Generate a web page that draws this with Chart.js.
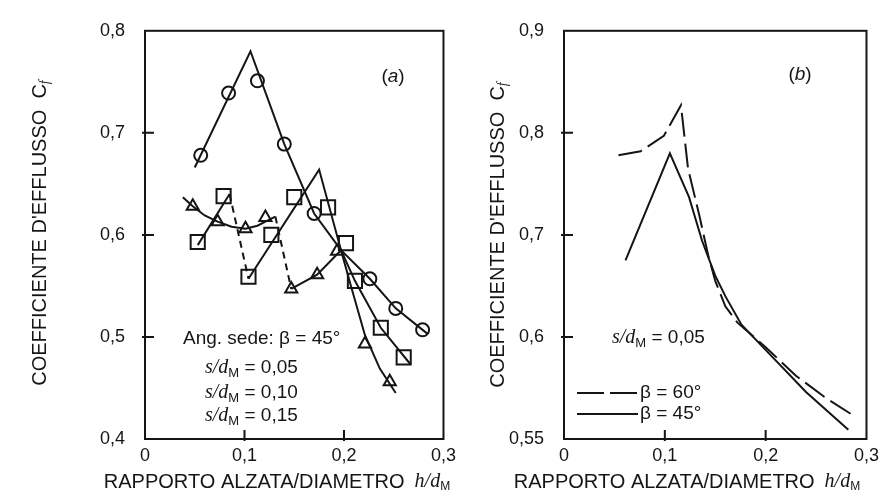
<!DOCTYPE html>
<html>
<head>
<meta charset="utf-8">
<script src="https://cdn.jsdelivr.net/npm/chart.js@4.4.1/dist/chart.umd.min.js"></script>
<style>
  html, body { margin: 0; padding: 0; background: #fff; }
  #wrap { position: relative; width: 885px; height: 496px; }
  canvas { position: absolute; top: 0; }
  #cA { left: 0; }
  #cB { left: 462px; }
</style>
</head>
<body>
<div id="wrap">
  <canvas id="cA" width="462" height="496"></canvas>
  <canvas id="cB" width="423" height="496"></canvas>
</div>
<script>
// ---- panel (a): beta = 45 deg, three values of s/dM ----
// circles (s/dM = 0,05)
var circLineX = [0.050, 0.106, 0.140, 0.170, 0.197, 0.226, 0.252, 0.284];
var circLineY = [0.666, 0.780, 0.689, 0.621, 0.585, 0.557, 0.528, 0.503];
var circPtX = [0.056, 0.084, 0.113, 0.140, 0.170, 0.226, 0.252, 0.279];
var circPtY = [0.678, 0.739, 0.751, 0.689, 0.621, 0.557, 0.528, 0.507];
// squares (s/dM = 0,10)
var sqLineX = [0.053, 0.085, 0.104, 0.175, 0.197, 0.211, 0.237, 0.267];
var sqLineY = [0.590, 0.640, 0.557, 0.664, 0.585, 0.555, 0.509, 0.473];
var sqDashed = [1];          // segment index drawn dashed
var sqPtX = [0.053, 0.079, 0.104, 0.127, 0.150, 0.184, 0.202, 0.211, 0.237, 0.260];
var sqPtY = [0.593, 0.638, 0.559, 0.600, 0.637, 0.627, 0.592, 0.555, 0.509, 0.480];
// triangles (s/dM = 0,15)
var triLineX = [0.038, 0.048, 0.060, 0.073, 0.087, 0.101, 0.113, 0.121, 0.131, 0.147, 0.173, 0.197, 0.207, 0.221, 0.236, 0.252];
var triLineY = [0.637, 0.628, 0.619, 0.613, 0.608, 0.606, 0.609, 0.613, 0.618, 0.547, 0.561, 0.585, 0.550, 0.502, 0.469, 0.445];
var triDashed = [8];
var triPtX = [0.048, 0.073, 0.101, 0.121, 0.147, 0.173, 0.193, 0.221, 0.246];
var triPtY = [0.628, 0.613, 0.606, 0.617, 0.547, 0.561, 0.584, 0.493, 0.456];

// ---- panel (b): s/dM = 0,05 ----
var b60X = [0.054, 0.076, 0.099, 0.116, 0.123, 0.134, 0.143, 0.150, 0.160, 0.172, 0.200, 0.230, 0.260, 0.287];
var b60Y = [0.778, 0.782, 0.797, 0.827, 0.765, 0.720, 0.680, 0.655, 0.630, 0.614, 0.590, 0.562, 0.540, 0.523];
var b45X = [0.061, 0.105, 0.124, 0.137, 0.150, 0.160, 0.176, 0.208, 0.240, 0.282];
var b45Y = [0.675, 0.780, 0.737, 0.694, 0.660, 0.640, 0.612, 0.579, 0.546, 0.509];

// ticks
var xTicks = [0, 0.1, 0.2, 0.3];
var xTickText = ['0', '0,1', '0,2', '0,3'];
var yTicksA = [0.4, 0.5, 0.6, 0.7, 0.8];
var yTickTextA = ['0,4', '0,5', '0,6', '0,7', '0,8'];
var yTicksB = [0.5, 0.6, 0.7, 0.8, 0.9];
var yTickTextB = ['0,55', '0,6', '0,7', '0,8', '0,9'];

var SANS = "'Liberation Sans', Arial, sans-serif";
var SERIF = "'Liberation Serif', 'Times New Roman', serif";
var INK = '#151515';

function pts(xs, ys) {
  return xs.map(function (x, i) { return { x: x, y: ys[i] }; });
}

function lineSet(xs, ys, dash, dashedIdx) {
  return {
    data: pts(xs, ys),
    showLine: true,
    borderColor: INK,
    borderWidth: 2,
    pointRadius: 0,
    borderDash: dash || [],
    segment: dashedIdx ? {
      borderDash: function (c) { return dashedIdx.indexOf(c.p0DataIndex) >= 0 ? [7, 5] : undefined; }
    } : undefined
  };
}

function markSet(xs, ys, style, r) {
  return {
    data: pts(xs, ys),
    showLine: false,
    pointStyle: style,
    pointRadius: r,
    pointBorderWidth: 2,
    pointBorderColor: INK,
    pointBackgroundColor: 'rgba(0,0,0,0)'
  };
}

// draw a run of text pieces with their own fonts (italic, subscript ...)
function runsWidth(ctx, runs) {
  var w = 0;
  runs.forEach(function (r) { ctx.font = r.f; w += ctx.measureText(r.t).width + (r.gap || 0); });
  return w;
}
function drawRuns(ctx, runs, x, y, align) {
  var w = runsWidth(ctx, runs);
  var cx = align === 'center' ? x - w / 2 : x;
  ctx.textBaseline = 'middle';
  ctx.textAlign = 'left';
  ctx.fillStyle = INK;
  runs.forEach(function (r) {
    ctx.font = r.f;
    ctx.fillText(r.t, cx, y + (r.dy || 0));
    cx += ctx.measureText(r.t).width + (r.gap || 0);
  });
}

function sdm(val) {
  return [
    { t: 's/d', f: 'italic 20px ' + SERIF },
    { t: 'M', f: '13px ' + SANS, dy: 5 },
    { t: ' = ' + val, f: '19px ' + SANS }
  ];
}
var yTitle = [
  { t: "COEFFICIENTE D'EFFLUSSO  C", f: '20px ' + SANS },
  { t: 'f', f: 'italic 14px ' + SERIF, dy: 5 }
];
var xTitle = [
  { t: 'RAPPORTO ALZATA/DIAMETRO', f: '20px ' + SANS, gap: 10 },
  { t: 'h/d', f: 'italic 20px ' + SERIF },
  { t: 'M', f: '12px ' + SANS, dy: 5 }
];

// box around the plot area plus short inward tick marks
var frame = {
  id: 'frame',
  afterDatasetsDraw: function (chart) {
    var a = chart.chartArea, ctx = chart.ctx;
    var xs = chart.scales.x, ys = chart.scales.y;
    ctx.save();
    ctx.strokeStyle = INK;
    ctx.lineWidth = 2;
    ctx.strokeRect(a.left, a.top, a.right - a.left, a.bottom - a.top);
    ctx.beginPath();
    xs.ticks.forEach(function (t) {
      var px = xs.getPixelForValue(t.value);
      if (px <= a.left + 2 || px >= a.right - 2) return;
      ctx.moveTo(px, a.bottom + 2);
      ctx.lineTo(px, a.bottom - 9);
    });
    ys.ticks.forEach(function (t) {
      var py = ys.getPixelForValue(t.value);
      if (py <= a.top + 2 || py >= a.bottom - 2) return;
      ctx.moveTo(a.left - 3, py);
      ctx.lineTo(a.left + 9, py);
    });
    ctx.stroke();
    ctx.restore();
  }
};

function notes(list) {
  return {
    id: 'notes',
    afterDraw: function (chart) {
      var ctx = chart.ctx;
      list.forEach(function (n) {
        ctx.save();
        if (n.rot) {
          ctx.translate(n.x, n.y);
          ctx.rotate(-Math.PI / 2);
          drawRuns(ctx, n.runs, 0, 0, 'center');
        } else if (n.line) {
          ctx.strokeStyle = INK;
          ctx.lineWidth = 2;
          ctx.setLineDash(n.line);
          ctx.beginPath();
          ctx.moveTo(n.x, n.y);
          ctx.lineTo(n.x2, n.y);
          ctx.stroke();
        } else {
          drawRuns(ctx, n.runs, n.x, n.y, n.align);
        }
        ctx.restore();
      });
    }
  };
}

function scales(yTicks, yText, yMin, yMax, yWidth) {
  return {
    x: {
      type: 'linear', min: 0, max: 0.3,
      afterBuildTicks: function (s) { s.ticks = xTicks.map(function (v) { return { value: v }; }); },
      afterFit: function (s) { s.height = 57; },
      grid: { display: false, drawTicks: false },
      border: { display: false },
      ticks: {
        padding: 6, color: INK, font: { size: 18, family: SANS },
        callback: function (v, i) { return xTickText[i]; }
      }
    },
    y: {
      type: 'linear', min: yMin, max: yMax,
      afterBuildTicks: function (s) { s.ticks = yTicks.map(function (v) { return { value: v }; }); },
      afterFit: function (s) { s.width = yWidth; },
      grid: { display: false, drawTicks: false },
      border: { display: false },
      ticks: {
        padding: 20, color: INK, font: { size: 18, family: SANS },
        callback: function (v, i) { return yText[i]; }
      }
    }
  };
}

var common = {
  responsive: false,
  animation: false,
  events: [],
  plugins: { legend: { display: false }, tooltip: { enabled: false } }
};

new Chart(document.getElementById('cA'), {
  type: 'scatter',
  data: {
    datasets: [
      lineSet(circLineX, circLineY),
      lineSet(sqLineX, sqLineY, null, sqDashed),
      lineSet(triLineX, triLineY, null, triDashed),
      markSet(circPtX, circPtY, 'circle', 6.5),
      markSet(sqPtX, sqPtY, 'rect', 10),
      markSet(triPtX, triPtY, 'triangle', 7)
    ]
  },
  options: Object.assign({}, common, {
    layout: { padding: { top: 23, right: 4, bottom: 0, left: 0 } },
    scales: scales(yTicksA, yTickTextA, 0.4, 0.8, 145)
  }),
  plugins: [frame, notes([
    { x: 393, y: 77, align: 'center', runs: [
      { t: '(', f: '19px ' + SANS }, { t: 'a', f: 'italic 19px ' + SANS }, { t: ')', f: '19px ' + SANS }] },
    { x: 183, y: 339, runs: [{ t: 'Ang. sede: \u03b2 = 45\u00b0', f: '19px ' + SANS }] },
    { x: 205, y: 368, runs: sdm('0,05') },
    { x: 205, y: 393, runs: sdm('0,10') },
    { x: 205, y: 416, runs: sdm('0,15') },
    { x: 40, y: 233, rot: true, runs: yTitle },
    { x: 277, y: 482, align: 'center', runs: xTitle }
  ])]
});

new Chart(document.getElementById('cB'), {
  type: 'scatter',
  data: {
    datasets: [
      lineSet(b60X, b60Y, [24, 7]),
      lineSet(b45X, b45Y)
    ]
  },
  options: Object.assign({}, common, {
    layout: { padding: { top: 23, right: 10, bottom: 0, left: 0 } },
    scales: scales(yTicksB, yTickTextB, 0.5, 0.9, 102)
  }),
  plugins: [frame, notes([
    { x: 338, y: 75, align: 'center', runs: [
      { t: '(', f: '19px ' + SANS }, { t: 'b', f: 'italic 19px ' + SANS }, { t: ')', f: '19px ' + SANS }] },
    { x: 150, y: 338, runs: sdm('0,05') },
    { x: 115, x2: 176, y: 393, line: [27, 6] },
    { x: 178, y: 393, runs: [{ t: '\u03b2 = 60\u00b0', f: '19px ' + SANS }] },
    { x: 115, x2: 176, y: 414, line: [] },
    { x: 178, y: 414, runs: [{ t: '\u03b2 = 45\u00b0', f: '19px ' + SANS }] },
    { x: 36, y: 235, rot: true, runs: yTitle },
    { x: 225, y: 482, align: 'center', runs: xTitle }
  ])]
});
</script>
</body>
</html>
